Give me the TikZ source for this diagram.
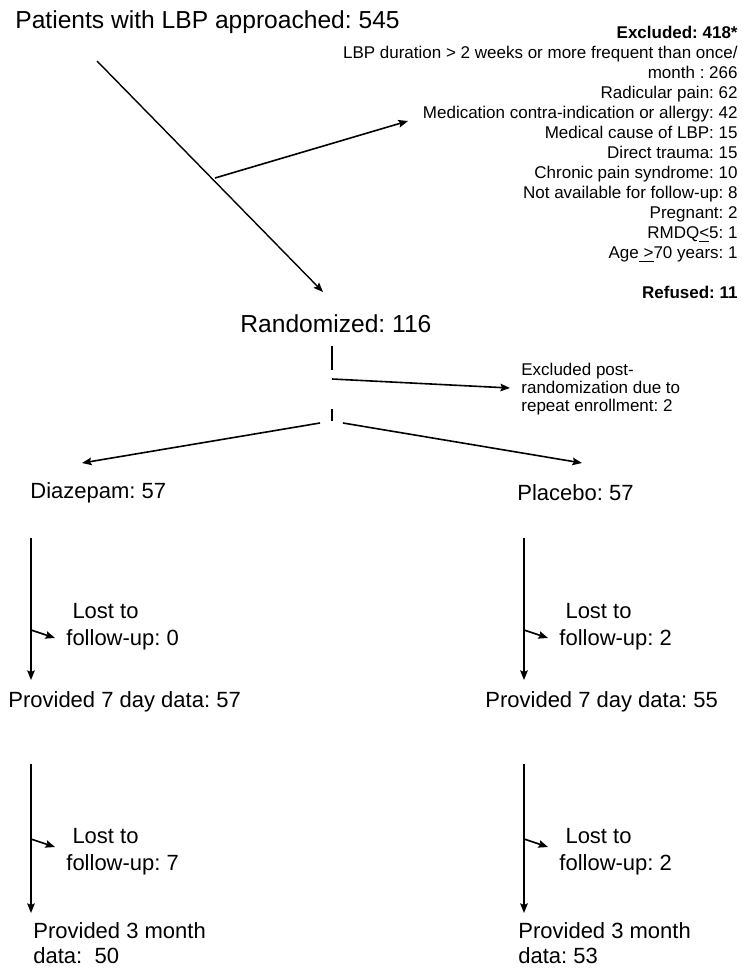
\documentclass[tikz,border=0pt]{standalone}
\usepackage{fontspec}
\setmainfont{Liberation Sans}
\usetikzlibrary{arrows.meta}
\frenchspacing
\def\xl{31}
\def\xr{524}
\tikzset{
  lbl/.style={anchor=base west,inner sep=0pt,font=\fontsize{11}{12.5}\selectfont},
  big/.style={anchor=base west,inner sep=0pt,font=\fontsize{12.3}{14}\selectfont},
  note/.style={inner sep=0pt,font=\fontsize{8.5}{10}\selectfont},
  flow/.style={-{Stealth[length=4.8pt,width=3.8pt,inset=0.8pt]},line width=0.8pt},
  bar/.style={line width=1.4pt},
}
% one follow-up arm: name, x, top y, bottom y, side y, text x, text y, number
\newcommand{\arm}[8]{%
  \coordinate (#1-top) at (#2,#3);
  \coordinate (#1-bot) at (#2,#4);
  \coordinate (#1-mid) at (#2,#5);
  \coordinate (#1-end) at (#2+24,#5+8);
  \draw[flow] (#1-top) -- (#1-bot);
  \draw[flow] (#1-mid) -- (#1-end);
  \node[lbl] (#1-lost) at (#6,#7) {\ Lost to};
  \node[lbl] (#1-fu) at (#6,#7+27) {follow-up: #8};
}

\begin{document}
\begin{tikzpicture}[x=0.5pt,y=-0.5pt]
\useasboundingbox (0,0) rectangle (742,969);

% --- screening ------------------------------------------------------
\node[big] (appr) at (15,28) {Patients with LBP approached: 545};
\coordinate (appr-s) at (97,61);
\coordinate (rand-n) at (323,292);
\coordinate (excl-s) at (215,178);
\coordinate (excl-e) at (408,121);
\draw[flow,line width=0.7pt] (appr-s) -- (rand-n);
\draw[flow] (excl-s) -- (excl-e);

\node[note,anchor=north east,align=right] (excl) at (738,25.5) {%
  \textbf{Excluded: 418*}\\
  LBP duration > 2 weeks or more frequent than once/\\
  month : 266\\
  Radicular pain: 62\\
  Medication contra-indication or allergy: 42\\
  Medical cause of LBP: 15\\
  Direct trauma: 15\\
  Chronic pain syndrome: 10\\
  Not available for follow-up: 8\\
  Pregnant: 2\\
  RMDQ\underline{<}5: 1\\
  Age\underline{\ >}70 years: 1\\[10pt]
  \textbf{Refused: 11}};

% --- randomization --------------------------------------------------
\node[big] (rand) at (240,332) {Randomized: 116};
\coordinate (bar1-t) at (332,346);
\coordinate (bar1-b) at (332,370);
\coordinate (bar2-t) at (332,409);
\coordinate (bar2-b) at (332,421);
\draw[bar] (bar1-t) -- (bar1-b);
\draw[bar] (bar2-t) -- (bar2-b);
\coordinate (post-s) at (332,379);
\coordinate (post-e) at (510,388);
\draw[flow] (post-s) -- (post-e);
\node[note,anchor=north west,align=left,font=\fontsize{8.5}{9}\selectfont]
  (post) at (521,362.5) {Excluded post-\\randomization due to\\repeat enrollment: 2};

\coordinate (split-l) at (320,423);
\coordinate (split-r) at (343,423);
\coordinate (diaz-n) at (82,463);
\coordinate (plac-n) at (582,463);
\draw[flow] (split-l) -- (diaz-n);
\draw[flow] (split-r) -- (plac-n);

% --- arms -------------------------------------------------------------
\node[lbl] (diaz) at (30,498) {Diazepam: 57};
\node[lbl] (plac) at (517,500) {Placebo: 57};

\arm{dz1}{\xl}{538}{680}{630}{66}{618}{0}
\arm{pl1}{\xr}{538}{680}{630}{559}{618}{2}
\node[lbl] (dz7) at (8,707) {Provided 7 day data: 57};
\node[lbl] (pl7) at (485,707) {Provided 7 day data: 55};

\arm{dz2}{\xl}{764}{913}{839}{66}{843}{7}
\arm{pl2}{\xr}{764}{913}{839}{559}{843}{2}
\node[lbl,anchor=north west,align=left] (dz3m) at (33,922) {Provided 3 month\\data:\ \ 50};
\node[lbl,anchor=north west,align=left] (pl3m) at (518,922) {Provided 3 month\\data: 53};

\end{tikzpicture}
\end{document}
